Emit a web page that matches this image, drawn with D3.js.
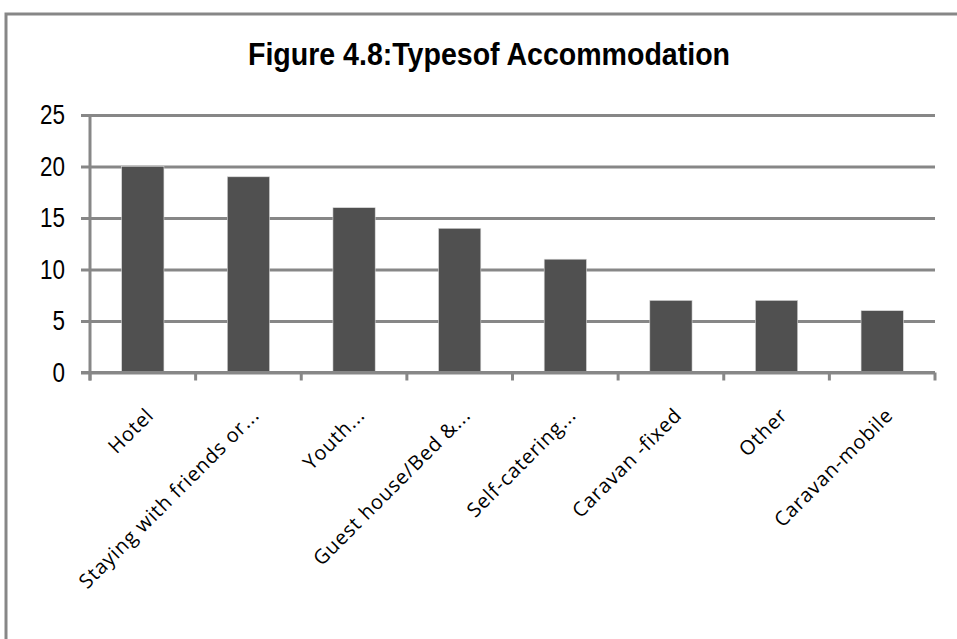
<!DOCTYPE html>
<html><head><meta charset="utf-8">
<script src="https://cdn.jsdelivr.net/npm/d3@7"></script>
<style>body{margin:0;background:#fff;}svg{display:block;}</style>
</head><body>
<svg id="c" width="957" height="639"></svg>
<script>
const categories = ["Hotel","Staying with friends or...","Youth...","Guest house/Bed &...","Self-catering...","Caravan -fixed","Other","Caravan-mobile"];
const values = [20,19,16,14,11,7,7,6];
const yTicks = [0,5,10,15,20,25];
const titleText = "Figure 4.8:Typesof Accommodation";

const svg = d3.select("#c");
const gray = "#878787";
const sans = "'Liberation Sans', Arial, sans-serif";
svg.append("rect").attr("x",6).attr("y",14).attr("width",1000).attr("height",700)
  .attr("fill","#fff").attr("stroke",gray).attr("stroke-width",3);

const m = {l:90, r:935, t:115, b:372.5};
const x = d3.scaleBand().domain(categories).range([m.l,m.r]).paddingInner(0.6).paddingOuter(0.3);
const y = d3.scaleLinear().domain([0,25]).range([m.b,m.t]);

svg.append("text").attr("x",489).attr("y",65).attr("text-anchor","middle")
  .attr("font-family",sans).attr("font-weight","bold")
  .attr("font-size",31).attr("textLength",482).attr("lengthAdjust","spacingAndGlyphs")
  .attr("fill","#000").text(titleText);

// gridlines
const yAxis = d3.axisLeft(y).tickValues(yTicks).tickSize(-(m.r-m.l)).tickSizeOuter(0).tickPadding(25);
const gy = svg.append("g").attr("transform",`translate(${m.l},0)`).call(yAxis);
gy.select(".domain").remove();
gy.selectAll(".tick line").attr("stroke",gray).attr("stroke-width",3).attr("x1",-9);
gy.selectAll(".tick text").attr("font-family",sans).attr("font-size",27).attr("fill","#000")
  .attr("textLength",d=>String(d).length*12.5).attr("lengthAdjust","spacingAndGlyphs");

// bars
svg.append("g").selectAll("rect").data(values).join("rect")
  .attr("x",(d,i)=>x(categories[i])).attr("width",x.bandwidth())
  .attr("y",d=>y(d)).attr("height",d=>y(0)-y(d))
  .attr("fill","#505050").attr("stroke","#d8d8d8").attr("stroke-width",0.6);

// axes lines
svg.append("line").attr("x1",m.l).attr("x2",m.l).attr("y1",m.t).attr("y2",m.b+8)
  .attr("stroke",gray).attr("stroke-width",3);
const xTickPos = d3.range(categories.length+1).map(i=>m.l+i*x.step());
svg.append("line").attr("x1",m.l-9).attr("x2",m.r).attr("y1",m.b).attr("y2",m.b)
  .attr("stroke",gray).attr("stroke-width",3);
svg.append("g").selectAll("line").data(xTickPos).join("line")
  .attr("x1",d=>d).attr("x2",d=>d).attr("y1",m.b).attr("y2",m.b+8)
  .attr("stroke",gray).attr("stroke-width",3);

// x labels
svg.append("g").selectAll("text").data(categories).join("text")
  .attr("transform",d=>`translate(${x(d)+x.bandwidth()/2+12},${m.b+44}) rotate(-45)`)
  .attr("text-anchor","end")
  .attr("font-family","Open Sans, sans-serif").attr("font-size",20)
  .attr("letter-spacing",0.8).attr("fill","#000")
  .text(d=>d);
</script>
</body></html>
